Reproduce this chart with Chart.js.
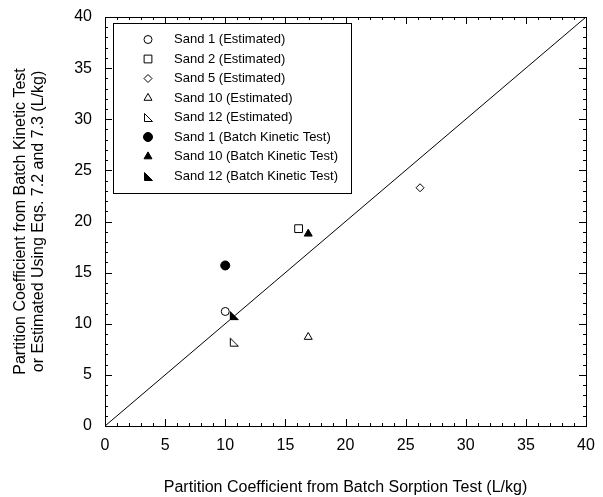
<!DOCTYPE html>
<html>
<head>
<meta charset="utf-8">
<script src="https://cdn.jsdelivr.net/npm/chart.js@4/dist/chart.umd.min.js"></script>
<style>
html,body{margin:0;padding:0;background:#fff;}
#wrap{width:603px;height:497px;}
</style>
</head>
<body>
<div id="wrap"><canvas id="c" width="603" height="497"></canvas></div>
<script>
// ---- data ----
const seriesLabels = [
  'Sand 1 (Estimated)',
  'Sand 2 (Estimated)',
  'Sand 5 (Estimated)',
  'Sand 10 (Estimated)',
  'Sand 12 (Estimated)',
  'Sand 1 (Batch Kinetic Test)',
  'Sand 10 (Batch Kinetic Test)',
  'Sand 12 (Batch Kinetic Test)'
];
const batchSorptionKd = [10.0, 16.1, 26.2, 16.9, 10.75, 10.0, 16.9, 10.75];
const kineticOrEstimatedKd = [11.2, 19.3, 23.3, 8.7, 8.2, 15.7, 18.8, 10.8];
const unityLineX = [0, 40];
const unityLineY = [0, 40];
const axisTickValues = [0, 5, 10, 15, 20, 25, 30, 35, 40];
const xAxisTitle = 'Partition Coefficient from Batch Sorption Test (L/kg)';
const yAxisTitleLines = ['Partition Coefficient from Batch Kinetic Test', 'or Estimated Using Eqs. 7.2 and 7.3 (L/kg)'];

// ---- styling ----
const FONT = "'Liberation Sans', Arial, Helvetica, sans-serif";

function makeRightTri(filled) {
  const c = document.createElement('canvas');
  c.width = 11; c.height = 11;
  const g = c.getContext('2d');
  g.beginPath();
  g.moveTo(1.5, 1.5); g.lineTo(1.5, 9.5); g.lineTo(9.5, 9.5); g.closePath();
  g.lineWidth = 1; g.strokeStyle = '#000';
  if (filled) { g.fillStyle = '#000'; g.fill(); }
  g.stroke();
  return c;
}
const rightTriOpen = makeRightTri(false);
const rightTriFilled = makeRightTri(true);

const markerDefs = [
  {shape: 'circle', r: 4, filled: false},
  {shape: 'rect', r: 5.5, filled: false},
  {shape: 'rectRot', r: 4, filled: false},
  {shape: 'triangle', r: 4.6, filled: false},
  {shape: rightTriOpen, r: 5, filled: false},
  {shape: 'circle', r: 4.5, filled: true},
  {shape: 'triangle', r: 4.6, filled: true},
  {shape: rightTriFilled, r: 5, filled: true}
];

const datasets = seriesLabels.map((lab, i) => ({
  type: 'scatter',
  label: lab,
  data: [{x: batchSorptionKd[i], y: kineticOrEstimatedKd[i]}],
  pointStyle: markerDefs[i].shape,
  pointRadius: markerDefs[i].r,
  pointHoverRadius: markerDefs[i].r,
  borderColor: '#000',
  backgroundColor: markerDefs[i].filled ? '#000' : 'rgba(0,0,0,0)',
  borderWidth: 1
}));
datasets.push({
  type: 'line',
  label: '1:1',
  data: unityLineX.map((x, i) => ({x: x, y: unityLineY[i]})),
  borderColor: '#000',
  borderWidth: 1,
  pointRadius: 0,
  fill: false,
  tension: 0
});

function drawLegendSymbol(ctx, def, x, y) {
  ctx.save();
  ctx.lineWidth = 1;
  ctx.strokeStyle = '#000';
  ctx.fillStyle = '#000';
  const r = def.r;
  if (typeof def.shape !== 'string') {
    ctx.drawImage(def.shape, Math.round(x - def.shape.width / 2), Math.round(y - def.shape.height / 2));
    ctx.restore();
    return;
  }
  ctx.beginPath();
  if (def.shape === 'circle') {
    ctx.arc(x, y, r, 0, Math.PI * 2);
  } else if (def.shape === 'rect') {
    const s = r * Math.SQRT1_2;
    ctx.rect(x - s, y - s, 2 * s, 2 * s);
  } else if (def.shape === 'rectRot') {
    ctx.moveTo(x - r, y); ctx.lineTo(x, y - r); ctx.lineTo(x + r, y); ctx.lineTo(x, y + r); ctx.closePath();
  } else if (def.shape === 'triangle') {
    let a = 0;
    ctx.moveTo(x + Math.sin(a) * r, y - Math.cos(a) * r);
    a += 2 * Math.PI / 3;
    ctx.lineTo(x + Math.sin(a) * r, y - Math.cos(a) * r);
    a += 2 * Math.PI / 3;
    ctx.lineTo(x + Math.sin(a) * r, y - Math.cos(a) * r);
    ctx.closePath();
  }
  if (def.filled) ctx.fill();
  ctx.stroke();
  ctx.restore();
}

const framePlugin = {
  id: 'frameTicksLegend',
  afterDraw(chart) {
    const ctx = chart.ctx;
    const a = chart.chartArea;
    const xs = chart.scales.x, ys = chart.scales.y;
    ctx.save();
    ctx.strokeStyle = '#000';
    ctx.lineWidth = 1;
    // frame
    ctx.strokeRect(Math.round(a.left) + 0.5, Math.round(a.top) + 0.5, Math.round(a.right - a.left), Math.round(a.bottom - a.top));
    // inward ticks on all sides
    ctx.beginPath();
    for (let v = xs.min; v <= xs.max; v += 1) {
      const len = (v % 5 === 0) ? 7 : 3;
      const px = Math.round(xs.getPixelForValue(v)) + 0.5;
      ctx.moveTo(px, a.bottom); ctx.lineTo(px, a.bottom - len);
      ctx.moveTo(px, a.top); ctx.lineTo(px, a.top + len);
    }
    for (let v = ys.min; v <= ys.max; v += 1) {
      const len = (v % 5 === 0) ? 7 : 3;
      const py = Math.round(ys.getPixelForValue(v)) + 0.5;
      ctx.moveTo(a.left, py); ctx.lineTo(a.left + len, py);
      ctx.moveTo(a.right, py); ctx.lineTo(a.right - len, py);
    }
    ctx.stroke();

    // legend box
    const bx = 113.5, by = 23.5, bw = 238, bh = 170;
    ctx.fillStyle = '#fff';
    ctx.fillRect(bx, by, bw, bh);
    ctx.strokeRect(bx, by, bw, bh);
    ctx.font = '13px ' + FONT;
    ctx.textBaseline = 'middle';
    ctx.textAlign = 'left';
    const rowStart = 39.5, rowStep = 19.5;
    seriesLabels.forEach((lab, i) => {
      const yy = rowStart + i * rowStep;
      drawLegendSymbol(ctx, markerDefs[i], 148, yy);
      ctx.fillStyle = '#000';
      ctx.fillText(lab, 174, yy);
    });
    ctx.restore();
  }
};

function zeroPad(s) {
  s.paddingTop = 0; s.paddingBottom = 0; s.paddingLeft = 0; s.paddingRight = 0;
}

const chart = new Chart(document.getElementById('c'), {
  data: {datasets: datasets},
  options: {
    responsive: false,
    animation: false,
    devicePixelRatio: 1,
    layout: {padding: {left: 0, right: 17, top: 17, bottom: 0}},
    plugins: {legend: {display: false}, tooltip: {enabled: false}},
    scales: {
      x: {
        type: 'linear', min: 0, max: 40,
        afterBuildTicks: s => { s.ticks = axisTickValues.map(v => ({value: v})); },
        afterFit: s => { s.height = 71; zeroPad(s); },
        grid: {display: false, drawTicks: false},
        border: {display: false},
        ticks: {color: '#000', font: {family: FONT, size: 16}, padding: 10, maxRotation: 0, autoSkip: false},
        title: {display: true, text: xAxisTitle, color: '#000', font: {family: FONT, size: 16}, padding: {top: 0, bottom: 0}}
      },
      y: {
        type: 'linear', min: 0, max: 40,
        afterBuildTicks: s => { s.ticks = axisTickValues.map(v => ({value: v})); },
        afterFit: s => { s.width = 105; zeroPad(s); },
        grid: {display: false, drawTicks: false},
        border: {display: false},
        ticks: {color: '#000', font: {family: FONT, size: 16}, padding: 13, autoSkip: false},
        title: {display: true, text: yAxisTitleLines, color: '#000', font: {family: FONT, size: 16, lineHeight: 1.125}, padding: {top: 12, bottom: 0}}
      }
    }
  },
  plugins: [framePlugin]
});
</script>
</body>
</html>
